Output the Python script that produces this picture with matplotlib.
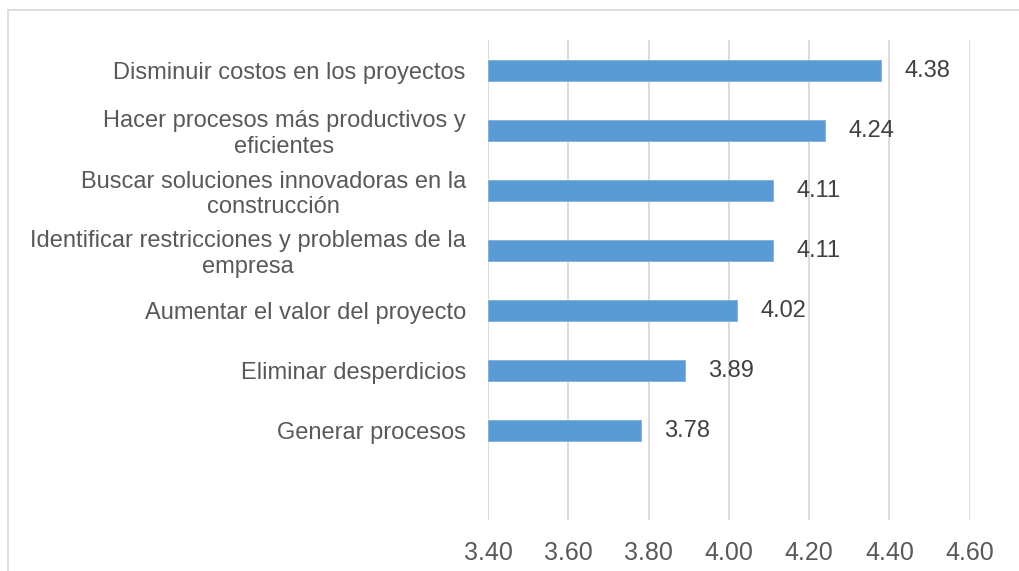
import matplotlib
matplotlib.use("Agg")
import matplotlib.pyplot as plt
from matplotlib.lines import Line2D

plt.rcParams['font.family'] = ['Liberation Sans', 'DejaVu Sans']

categories = [
    "Disminuir costos en los proyectos",
    "Hacer procesos más productivos y\neficientes",
    "Buscar soluciones innovadoras en la\nconstrucción",
    "Identificar restricciones y problemas de la\nempresa",
    "Aumentar el valor del proyecto",
    "Eliminar desperdicios",
    "Generar procesos",
]
values = [4.38, 4.24, 4.11, 4.11, 4.02, 3.89, 3.78]
x_ticks = [3.40, 3.60, 3.80, 4.00, 4.20, 4.40, 4.60]
x_tick_labels = ["3.40", "3.60", "3.80", "4.00", "4.20", "4.40", "4.60"]

W, H, DPI = 1020, 571, 100
fig = plt.figure(figsize=(W / DPI, H / DPI), dpi=DPI)
fig.patch.set_facecolor("white")

# outer chart frame (left and top edges visible)
frame_col = "#d9d9d9"
fig.add_artist(Line2D([8 / W, 8 / W], [0, 1 - 10 / H], transform=fig.transFigure,
                      color=frame_col, lw=1.2))
fig.add_artist(Line2D([8 / W, 1], [1 - 10 / H, 1 - 10 / H], transform=fig.transFigure,
                      color=frame_col, lw=1.2))

left, right, top, bottom = 488, 969.7, 40, 520
ax = fig.add_axes([left / W, 1 - bottom / H, (right - left) / W, (bottom - top) / H])

base = x_ticks[0]
ypos = list(range(len(categories)))
ax.barh(ypos, [v - base for v in values], left=base, height=0.35,
        color="#5b9bd5", edgecolor="#7fb0de", linewidth=0.6, zorder=3)

for y, v in zip(ypos, values):
    ax.annotate(f"{v:.2f}", xy=(v, y), xytext=(17, -1), textcoords="offset points",
                ha="left", va="center", fontsize=17, color="#404040", zorder=4)

ax.set_xlim(x_ticks[0], x_ticks[-1])
ax.set_ylim(len(categories) + 0.5, -0.5)
ax.set_xticks(x_ticks)
ax.set_xticklabels(x_tick_labels)
ax.set_yticks(ypos)
ax.set_yticklabels(categories, ha="right", multialignment="center")
ax.tick_params(axis="x", length=0, pad=15, labelsize=18, labelcolor="#595959")
ax.tick_params(axis="y", length=0, pad=16, labelsize=17, labelcolor="#595959")
for lbl in ax.get_yticklabels():
    lbl.set_linespacing(1.2)

ax.grid(axis="x", color="#d9d9d9", linewidth=1.3, zorder=0)
ax.grid(axis="y", visible=False)
for s in ax.spines.values():
    s.set_visible(False)
ax.set_facecolor("white")

fig.savefig("out.png", dpi=DPI, facecolor="white")
